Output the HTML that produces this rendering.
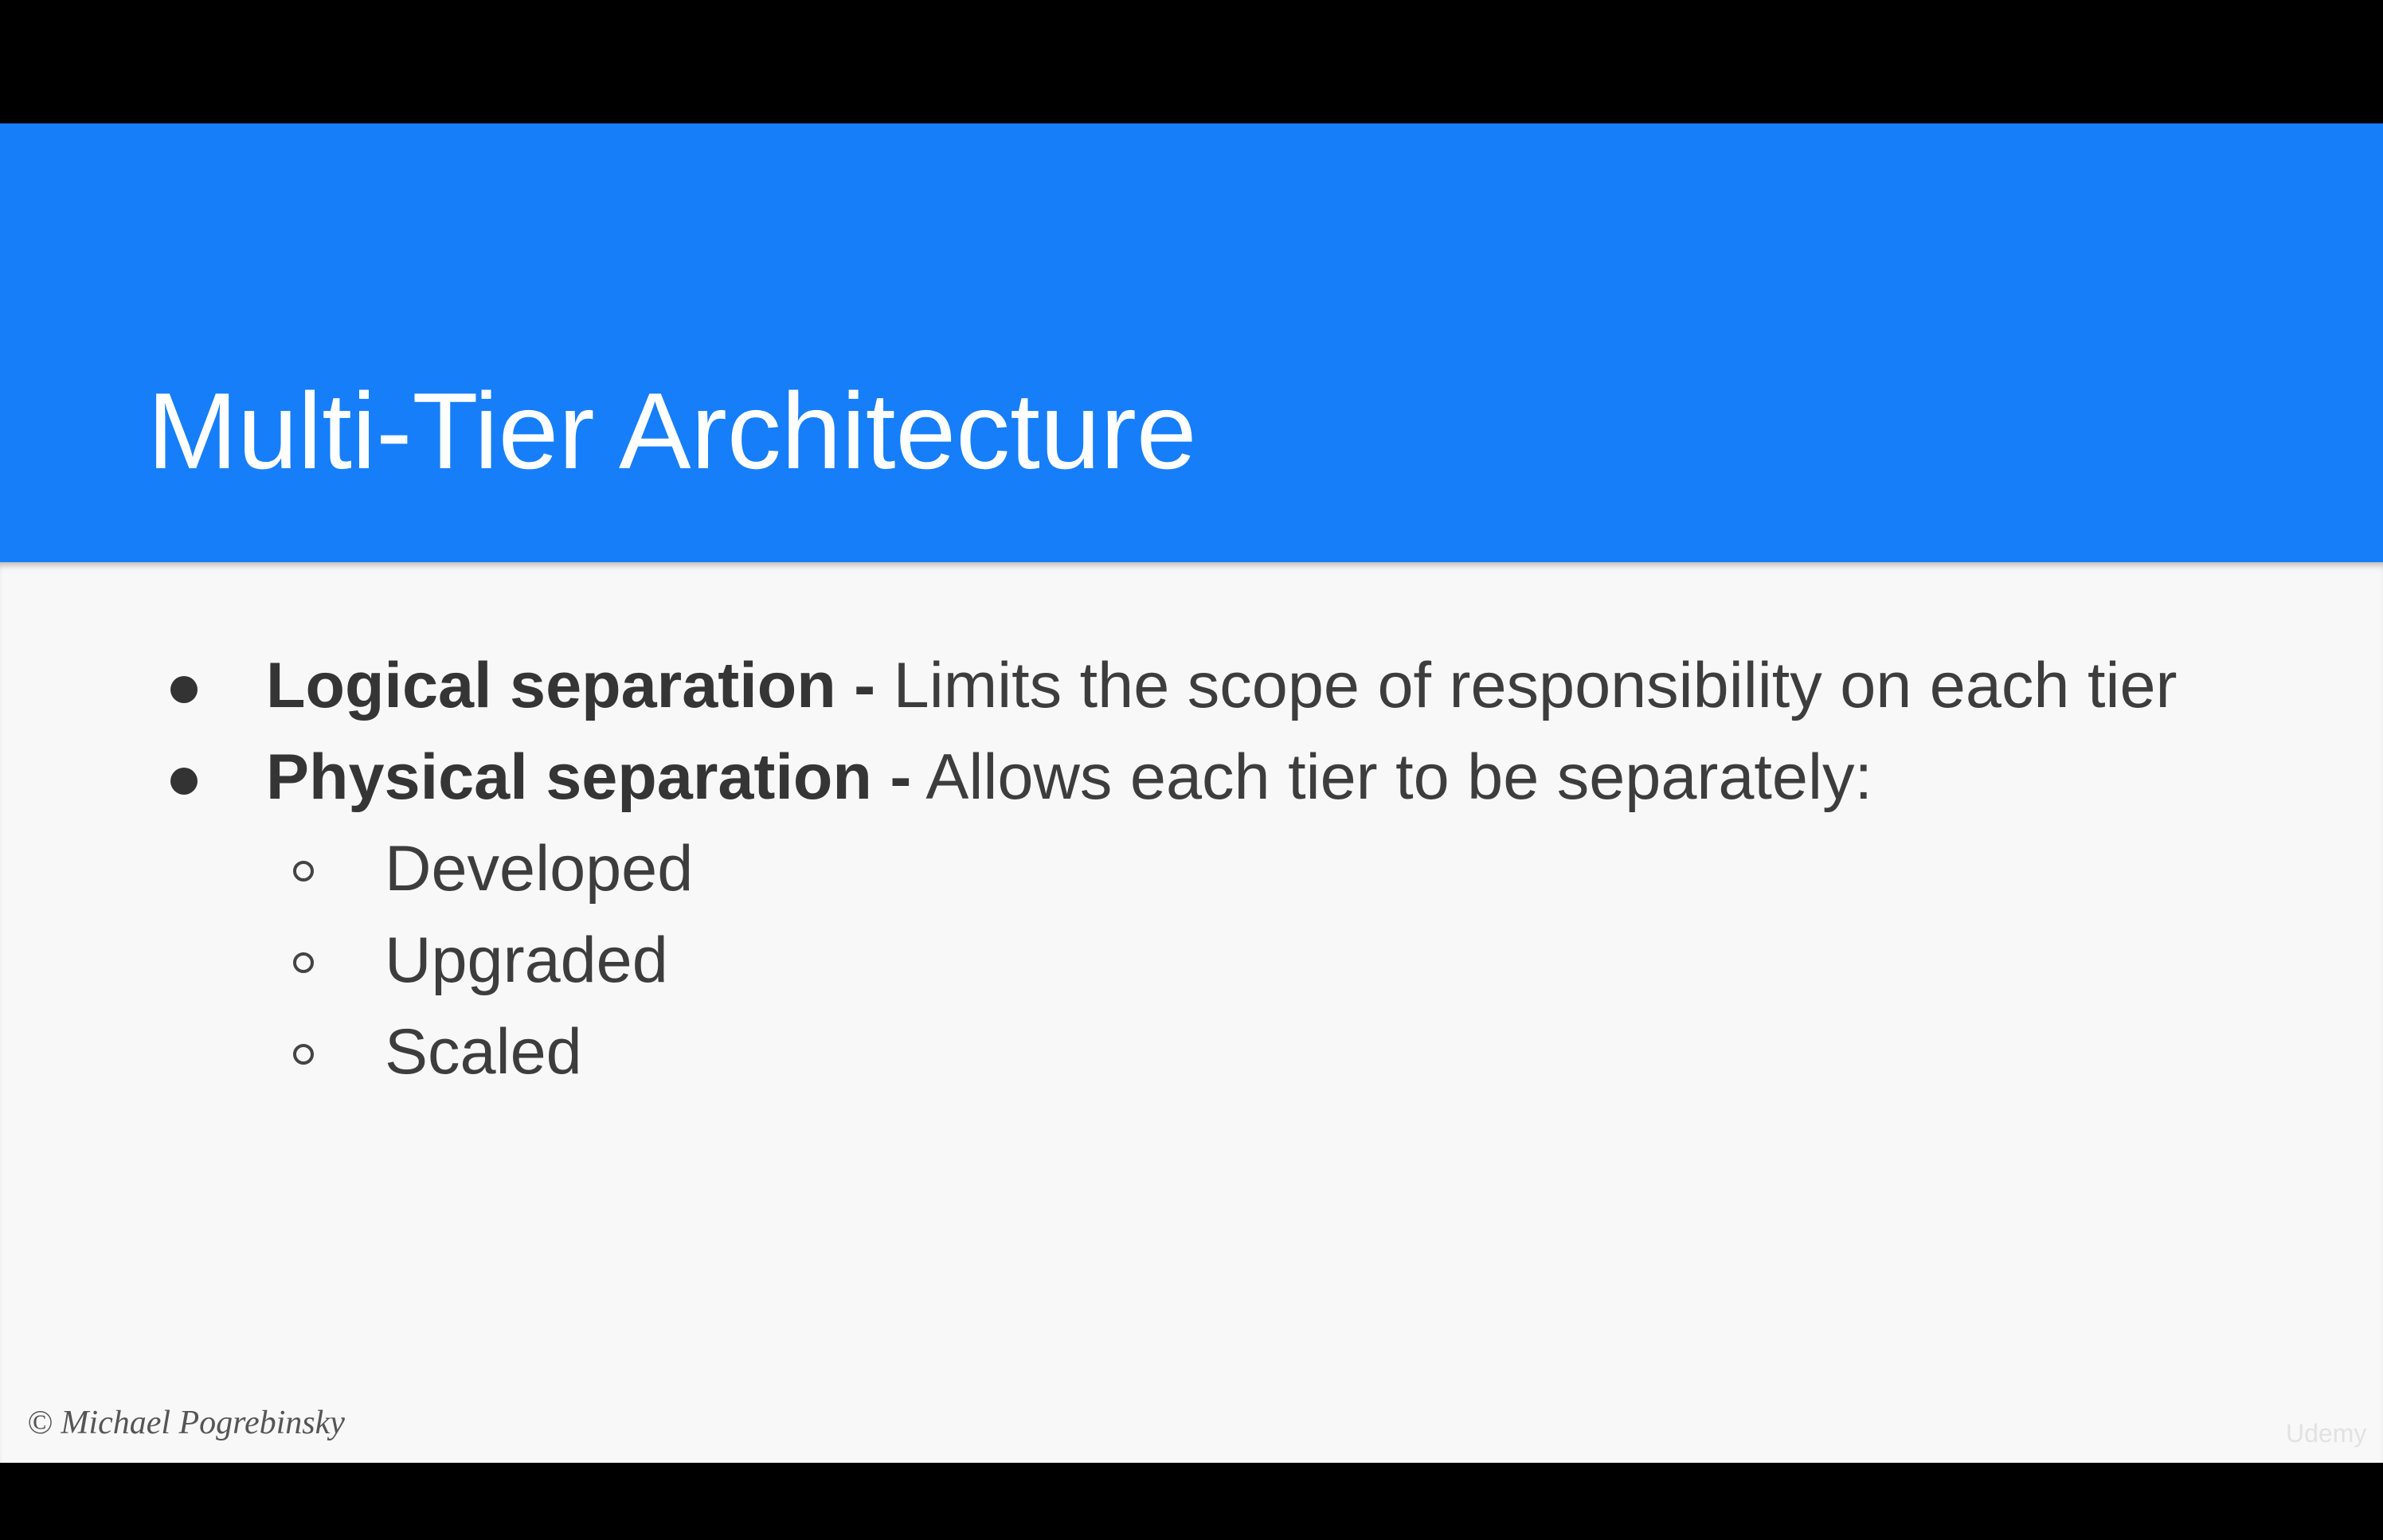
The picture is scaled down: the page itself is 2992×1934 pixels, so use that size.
<!DOCTYPE html>
<html><head><meta charset="utf-8"><style>
html,body{margin:0;padding:0;}
body{width:2992px;height:1934px;background:#000;position:relative;overflow:hidden;font-family:"Liberation Sans",sans-serif;}
#hdr{position:absolute;left:0;top:155px;width:2992px;height:551px;background:#167ef9;}
#main{position:absolute;left:0;top:706px;width:2992px;height:1131px;background:#f8f8f8;box-shadow:inset 0 8px 8px -4px rgba(0,0,0,0.25);}
.t{position:absolute;white-space:nowrap;}
#title{left:185px;top:473px;font-size:136px;color:#fff;line-height:1;}
.b{font-size:81px;color:#3d3d3d;line-height:1;}
.b b{color:#353535;}
.dot{position:absolute;width:34px;height:34px;border-radius:50%;background:#333;}
.ring{position:absolute;width:26px;height:26px;border-radius:50%;border:4px solid #444;box-sizing:border-box;}
</style></head><body>
<div id="hdr"></div>
<div id="main"></div>
<div class="t" id="title">Multi-Tier Architecture</div>
<div class="dot" style="left:214px;top:849px"></div>
<div class="t b" style="left:334px;top:821px"><b>Logical separation -</b> Limits the scope of responsibility on each tier</div>
<div class="dot" style="left:214px;top:964px"></div>
<div class="t b" style="left:334px;top:936px"><b>Physical separation -</b> Allows each tier to be separately:</div>
<div class="ring" style="left:368px;top:1081px"></div>
<div class="t b" style="left:483px;top:1051px">Developed</div>
<div class="ring" style="left:368px;top:1196px"></div>
<div class="t b" style="left:483px;top:1166px">Upgraded</div>
<div class="ring" style="left:368px;top:1311px"></div>
<div class="t b" style="left:483px;top:1281px">Scaled</div>
<div class="t" style="left:34px;top:1763px;font-family:'Liberation Serif',serif;font-style:italic;font-size:42px;color:#555;">© Michael Pogrebinsky</div>
<div class="t" style="left:2870px;top:1782px;font-size:32px;color:#e2e2e2;">Udemy</div>
</body></html>
